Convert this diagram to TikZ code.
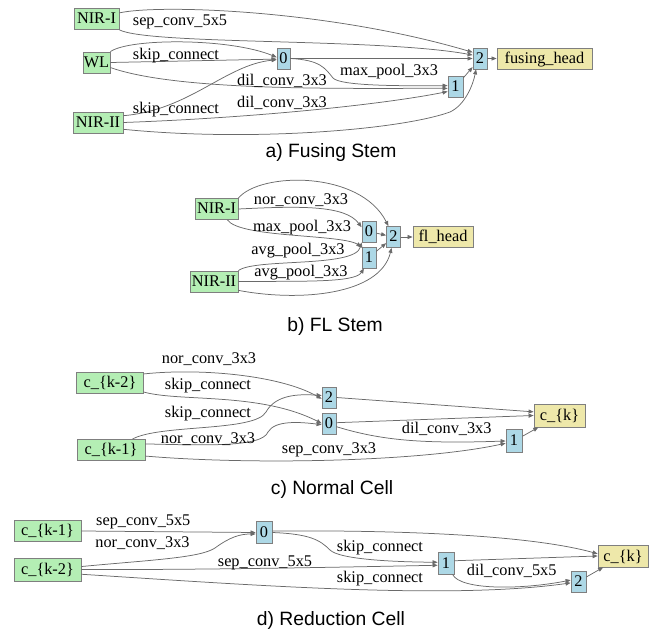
\documentclass[tikz,border=0pt]{standalone}
\usepackage{fontspec}
\newfontfamily\gvserif{Liberation Serif}
\newfontfamily\gvsans{Liberation Sans}
\usetikzlibrary{arrows.meta}
\definecolor{ingreen}{HTML}{B4EEB4}
\definecolor{midblue}{HTML}{ADD8E6}
\definecolor{outyel}{HTML}{EEE8AA}
\definecolor{bordergray}{HTML}{7F7F7F}
\definecolor{edgegray}{HTML}{6A6A6A}
\begin{document}
\begin{tikzpicture}[x=1pt,y=-1pt,
 box/.style={draw=bordergray, line width=0.8pt, inner sep=0pt, minimum height=21pt, text height=12pt, text depth=2pt, font=\gvserif\fontsize{16.3}{18}\selectfont},
 innode/.style={box, fill=ingreen},
 midnode/.style={box, fill=midblue},
 outnode/.style={box, fill=outyel},
 oplabel/.style={anchor=base, inner sep=0pt, font=\gvserif\fontsize{16.3}{18}\selectfont},
 caption/.style={anchor=base, inner sep=0pt, font=\gvsans\fontsize{19.3}{22}\selectfont},
 edge/.style={draw=edgegray, line width=0.75pt, -{Triangle[length=5pt,width=4pt]}},
]
\useasboundingbox (0,0) rectangle (657,631);

% ---------------- a) Fusing Stem ----------------
\node[innode, minimum width=45pt] (aI)  at (96.5,19)   {NIR-I};
\node[innode, minimum width=27pt] (aW)  at (96.5,62.5) {WL};
\node[innode, minimum width=50pt] (aII) at (98,122.5)  {NIR-II};
\node[midnode, minimum width=13pt] (a0) at (283.5,58.5) {0};
\node[midnode, minimum width=15pt] (a1) at (455.5,87)   {1};
\node[midnode, minimum width=14pt] (a2) at (480,58.5)   {2};
\node[outnode, minimum width=95pt] (aH) at (544.5,58.5) {fusing\_head};

\draw[edge] (aI.15) .. controls (160,4) and (330,10) .. (a2.140);
\draw[edge] (aI.south east) .. controls (150,45) and (380,38) .. (a2.155);
\draw[edge] (aW.north east) .. controls (130,38) and (230,38) .. (a0.170);
\draw[edge] (aW.east) -- (a0.185);
\draw[edge] (aW.-20) .. controls (180,92) and (350,88) .. (a1.190);
\draw[edge] (a0.east) .. controls (320,60) and (325,68) .. (333,78) .. controls (340,86) and (400,86) .. (a1.170);
\draw[edge] (a0.east) -- (a2.west);
\draw[edge] (aII.15) .. controls (190,110) and (225,65) .. (a0.190);
\draw[edge] (aII.east) .. controls (250,118) and (380,105) .. (a1.210);
\draw[edge] (aII.-15) .. controls (250,142) and (400,130) .. (450,112) .. controls (465,105) and (473,85) .. (a2.-110);
\draw[edge] (a1) -- (a2);
\draw[edge] (a2) -- (aH);

\node[oplabel] (la1) at (180,25.3)  {sep\_conv\_5x5};
\node[oplabel] (la2) at (176,59.5)  {skip\_connect};
\node[oplabel] (la3) at (282,86)    {dil\_conv\_3x3};
\node[oplabel] (la4) at (282,107.3) {dil\_conv\_3x3};
\node[oplabel] (la5) at (176,113.3) {skip\_connect};
\node[oplabel] (la6) at (389,76)    {max\_pool\_3x3};
\node[caption] (capa) at (331,158) {a) Fusing Stem};

% ---------------- b) FL Stem ----------------
\node[innode, minimum width=43pt] (bI)  at (216.5,209)  {NIR-I};
\node[innode, minimum width=48pt] (bII) at (214,281.5)  {NIR-II};
\node[midnode, minimum width=14pt] (b0) at (369,231.5)  {0};
\node[midnode, minimum width=14pt] (b1) at (369,257.5)  {1};
\node[midnode, minimum width=14pt] (b2) at (393.5,237)  {2};
\node[outnode, minimum width=60pt] (bH) at (443,237)    {fl\_head};

\draw[edge] (bI.north east) .. controls (260,172) and (360,170) .. (b2.115);
\draw[edge] (bI.east) .. controls (300,206) and (345,205) .. (b0.150);
\draw[edge] (bI.-45) .. controls (240,238) and (340,234) .. (b1.north west);
\draw[edge] (bII.north east) .. controls (255,258) and (355,268) .. (b0.south west);
\draw[edge] (bII.east) .. controls (300,281) and (355,283) .. (b1.-115);
\draw[edge] (bII.-20) .. controls (300,302) and (380,295) .. (b2.-100);
\draw[edge] (b0) -- (b2);
\draw[edge] (b1) -- (b2);
\draw[edge] (b2) -- (bH);

\node[oplabel] (lb1) at (301,205)   {nor\_conv\_3x3};
\node[oplabel] (lb2) at (302,231.7) {max\_pool\_3x3};
\node[oplabel] (lb3) at (298,255)   {avg\_pool\_3x3};
\node[oplabel] (lb4) at (301,276.7) {avg\_pool\_3x3};
\node[caption] (capb) at (335,331.7) {b) FL Stem};

% ---------------- c) Normal Cell ----------------
\node[innode, minimum width=67pt] (ck2) at (110,383) {c\_\{k-2\}};
\node[innode, minimum width=68pt] (ck1) at (111,450) {c\_\{k-1\}};
\node[midnode, minimum width=14pt] (c2) at (329,397.5) {2};
\node[midnode, minimum width=14pt] (c0) at (329,424)   {0};
\node[midnode, minimum width=16pt, minimum height=23pt] (c1) at (514,441) {1};
\node[outnode, minimum width=51pt, minimum height=23pt] (ck) at (559.5,415.5) {c\_\{k\}};

\draw[edge] (ck2.15) .. controls (200,368) and (280,375) .. (c2.190);
\draw[edge] (ck2.-15) .. controls (180,402) and (260,392) .. (c0.175);
\draw[edge] (ck1.27) .. controls (160,424) and (255,432) .. (266,412) .. controls (276,394) and (300,394) .. (c2.165);
\draw[edge] (ck1.10) .. controls (200,445) and (262,448) .. (268,432) .. controls (275,420) and (300,422) .. (c0.185);
\draw[edge] (ck1.-10) .. controls (250,465) and (420,462) .. (c1.195);
\draw[edge] (c0.-20) .. controls (380,440) and (420,444) .. (c1.west);
\draw[edge] (c2.east) -- (ck.172);
\draw[edge] (c0.10) -- (ck.west);
\draw[edge] (c1) -- (ck);

\node[oplabel] (lc1) at (209,364)   {nor\_conv\_3x3};
\node[oplabel] (lc2) at (208,390)   {skip\_connect};
\node[oplabel] (lc3) at (208,417.3) {skip\_connect};
\node[oplabel] (lc4) at (208,443.3) {nor\_conv\_3x3};
\node[oplabel] (lc5) at (329,453.3) {sep\_conv\_3x3};
\node[oplabel] (lc6) at (446.7,434) {dil\_conv\_3x3};
\node[caption] (capc) at (332,495) {c) Normal Cell};

% ---------------- d) Reduction Cell ----------------
\node[innode, minimum width=67pt] (dk1) at (47.5,531)   {c\_\{k-1\}};
\node[innode, minimum width=67pt, minimum height=23pt] (dk2) at (47.5,569.5) {c\_\{k-2\}};
\node[midnode, minimum width=16pt, minimum height=22pt] (d0) at (264,532.5) {0};
\node[midnode, minimum width=16pt, minimum height=22pt] (d1) at (446,563)   {1};
\node[midnode, minimum width=15pt] (d2) at (578.5,581.5) {2};
\node[outnode, minimum width=50pt, minimum height=22pt] (dk) at (623,556) {c\_\{k\}};

\draw[edge] (dk1.east) -- (d0.west);
\draw[edge] (dk2.5) .. controls (150,560) and (200,558) .. (215,548) .. controls (230,537) and (240,534) .. (d0.190);
\draw[edge] (dk2.east) .. controls (200,570) and (350,567) .. (d1.195);
\draw[edge] (dk2.-8) .. controls (250,585) and (450,600) .. (d2.190);
\draw[edge] (d0.east) .. controls (310,534) and (320,540) .. (330,550) .. controls (340,560) and (400,562) .. (d1.175);
\draw[edge] (d0.10) .. controls (400,530) and (530,535) .. (dk.175);
\draw[edge] (d1.15) -- (dk.west);
\draw[edge] (d1.-60) .. controls (460,590) and (520,590) .. (d2.170);
\draw[edge] (d2) -- (dk);

\node[oplabel] (ld1) at (143.3,525.7) {sep\_conv\_5x5};
\node[oplabel] (ld2) at (142.5,547.7) {nor\_conv\_3x3};
\node[oplabel] (ld3) at (265,566)     {sep\_conv\_5x5};
\node[oplabel] (ld4) at (380,551.7)   {skip\_connect};
\node[oplabel] (ld5) at (380,582.3)   {skip\_connect};
\node[oplabel] (ld6) at (511.7,575)   {dil\_conv\_5x5};
\node[caption] (capd) at (331,625) {d) Reduction Cell};
\end{tikzpicture}
\end{document}
